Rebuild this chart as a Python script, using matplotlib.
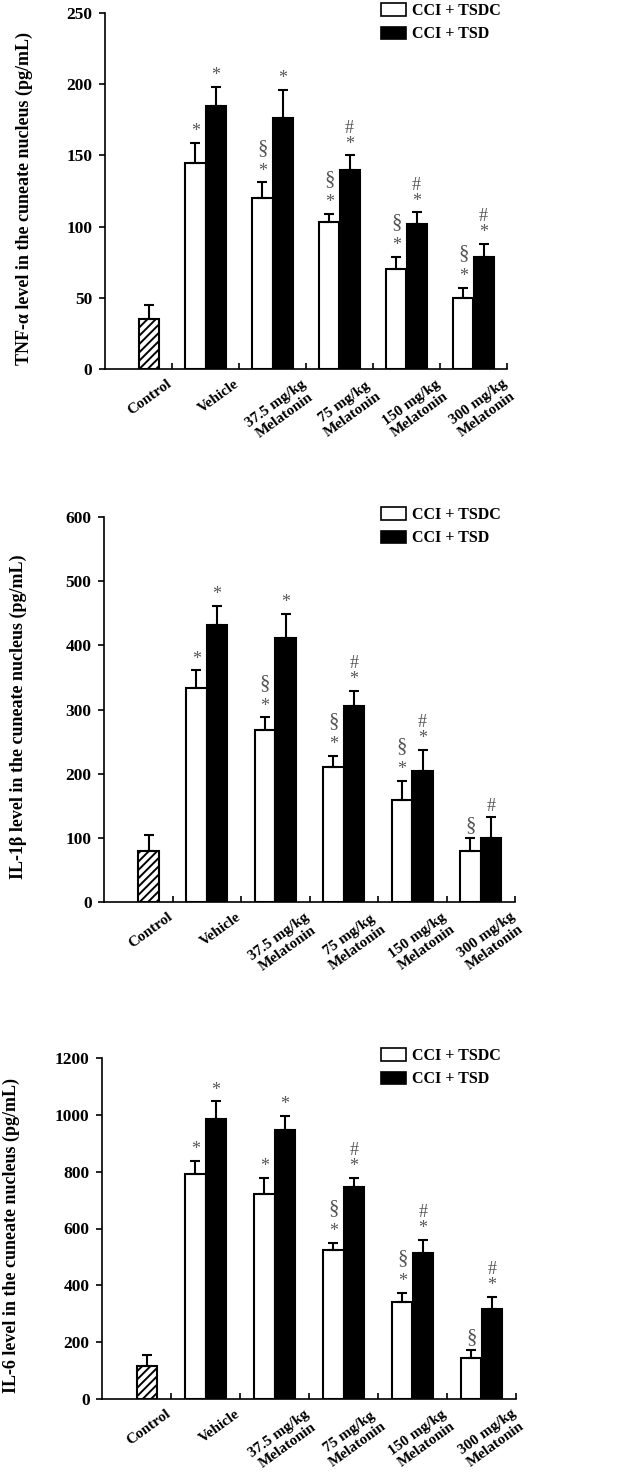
import matplotlib
matplotlib.use("Agg")
import matplotlib.pyplot as plt  # noqa: E402
from matplotlib.patches import Patch  # noqa: E402
import numpy as np  # noqa: E402

plt.rcParams["font.family"] = ["Liberation Serif", "DejaVu Serif"]
plt.rcParams["font.weight"] = "bold"
plt.rcParams["axes.labelweight"] = "bold"
plt.rcParams["hatch.linewidth"] = 1.4

W, H = 618, 1477

GROUPS = ["Control", "Vehicle", "37.5 mg/kg\nMelatonin", "75 mg/kg\nMelatonin",
          "150 mg/kg\nMelatonin", "300 mg/kg\nMelatonin"]
LEGEND = ["CCI + TSDC", "CCI + TSD"]

# TNF-alpha
tnf_control, tnf_control_err = 35, 10
tnf_tsdc = [145, 120, 103, 70, 50]
tnf_tsdc_err = [14, 11, 6, 9, 7]
tnf_tsd = [185, 176, 140, 102, 79]
tnf_tsd_err = [13, 20, 10, 8, 9]
tnf_tsdc_marks = ["*", "*§", "*§", "*§", "*§"]
tnf_tsd_marks = ["*", "*", "*#", "*#", "*#"]

# IL-1beta
il1_control, il1_control_err = 80, 25
il1_tsdc = [334, 268, 210, 159, 79]
il1_tsdc_err = [27, 20, 18, 30, 20]
il1_tsd = [432, 411, 305, 204, 99]
il1_tsd_err = [30, 38, 24, 33, 33]
il1_tsdc_marks = ["*", "*§", "*§", "*§", "§"]
il1_tsd_marks = ["*", "*", "*#", "*#", "#"]

# IL-6
il6_control, il6_control_err = 116, 39
il6_tsdc = [791, 723, 526, 341, 143]
il6_tsdc_err = [48, 56, 23, 33, 30]
il6_tsd = [986, 947, 745, 514, 318]
il6_tsd_err = [61, 49, 34, 46, 42]
il6_tsdc_marks = ["*", "*", "*§", "*§", "§"]
il6_tsd_marks = ["*", "*", "*#", "*#", "*#"]


def fx(px):
    return px / W


def fy(py):
    return 1 - py / H


PANELS = [
    dict(box=(105, 13, 507, 369), ymax=250, ystep=50, label="TNF-α level in the cuneate nucleus (pg/mL)",
         lab_x=33, ctrl=(tnf_control, tnf_control_err), tsdc=(tnf_tsdc, tnf_tsdc_err),
         tsd=(tnf_tsd, tnf_tsd_err), marks=(tnf_tsdc_marks, tnf_tsd_marks)),
    dict(box=(104, 517, 515, 902), ymax=600, ystep=100, label="IL-1β level in the cuneate nucleus (pg/mL)",
         lab_x=27, ctrl=(il1_control, il1_control_err), tsdc=(il1_tsdc, il1_tsdc_err),
         tsd=(il1_tsd, il1_tsd_err), marks=(il1_tsdc_marks, il1_tsd_marks)),
    dict(box=(102, 1058, 516, 1399), ymax=1200, ystep=200, label="IL-6 level in the cuneate nucleus (pg/mL)",
         lab_x=20, ctrl=(il6_control, il6_control_err), tsdc=(il6_tsdc, il6_tsdc_err),
         tsd=(il6_tsd, il6_tsd_err), marks=(il6_tsdc_marks, il6_tsd_marks)),
]

BW = 0.3          # bar width in group units
MARK_C = "#555555"
# font size and (first, stacked) offset in points of each significance sign
MARK_STYLE = {"*": (13, 8, 12), "§": (15, 9, 16.5), "#": (13, 8, 11.5)}

fig = plt.figure(figsize=(W / 100, H / 100), dpi=100)

for p in PANELS:
    l, t, r, b = p["box"]
    ax = fig.add_axes([fx(l), fy(b), fx(r) - fx(l), fy(t) - fy(b)])
    centers = np.arange(len(GROUPS)) + 0.5
    xw = centers[1:] - BW / 2
    xb = centers[1:] + BW / 2

    # control (hatched)
    cv, ce = p["ctrl"]
    ax.bar(centers[0] + BW / 2, cv, BW, color="white", edgecolor="black", lw=1.5, hatch="////")
    ax.errorbar(centers[0] + BW / 2, cv, yerr=[[0], [ce]], fmt="none", ecolor="black",
                elinewidth=1.5, capsize=3.5, capthick=1.5)

    wv, we = p["tsdc"]
    bv, be = p["tsd"]
    ax.bar(xw, wv, BW, color="white", edgecolor="black", lw=1.5, label=LEGEND[0])
    ax.bar(xb, bv, BW, color="black", edgecolor="black", lw=1.5, label=LEGEND[1])
    ax.errorbar(xw, wv, yerr=[np.zeros(len(we)), we], fmt="none", ecolor="black",
                elinewidth=1.5, capsize=3.5, capthick=1.5)
    ax.errorbar(xb, bv, yerr=[np.zeros(len(be)), be], fmt="none", ecolor="black",
                elinewidth=1.5, capsize=3.5, capthick=1.5)

    # significance marks stacked above the error bars
    for xs, vals, errs, marks in ((xw, wv, we, p["marks"][0]), (xb, bv, be, p["marks"][1])):
        for x, v, e, m in zip(xs, vals, errs, marks):
            off = 0
            for k, ch in enumerate(m):
                size, first, step = MARK_STYLE[ch]
                off += first if k == 0 else step
                ax.annotate(ch, (x, v + e), xytext=(0, off), textcoords="offset points",
                            ha="center", va="center", fontsize=size, color=MARK_C,
                            fontweight="normal", annotation_clip=False)

    ax.set_xlim(0, len(GROUPS))
    ax.set_ylim(0, p["ymax"])
    ax.set_yticks(np.arange(0, p["ymax"] + 1, p["ystep"]))
    ax.tick_params(axis="y", direction="out", length=4, width=1.2, labelsize=12.5, pad=5)
    ax.set_xticks(centers + 0.42)
    ax.set_xticklabels(GROUPS, rotation=36, rotation_mode="anchor", ha="right", va="top",
                       multialignment="center", fontsize=11)
    ax.tick_params(axis="x", which="major", length=0, pad=6)
    ax.set_xticks(np.arange(1, len(GROUPS) + 1), minor=True)
    ax.tick_params(axis="x", which="minor", direction="in", length=4, width=1.2)
    for s in ("top", "right"):
        ax.spines[s].set_visible(False)
    for s in ("left", "bottom"):
        ax.spines[s].set_linewidth(1.2)

    ax.set_ylabel(p["label"], fontsize=13)
    ax.yaxis.set_label_coords((p["lab_x"] - l) / (r - l), 0.48)

    handles = [Patch(facecolor="white", edgecolor="black", lw=1.2),
               Patch(facecolor="black", edgecolor="black", lw=1.2)]
    ax.legend(handles, LEGEND, loc="upper left", bbox_to_anchor=(fx(381), fy(t - 10)),
              bbox_transform=fig.transFigure, frameon=False, fontsize=11.5, borderpad=0,
              borderaxespad=0, handlelength=1.55, handleheight=0.8, handletextpad=0.4,
              labelspacing=0.45)

fig.savefig("out.png", dpi=100)
